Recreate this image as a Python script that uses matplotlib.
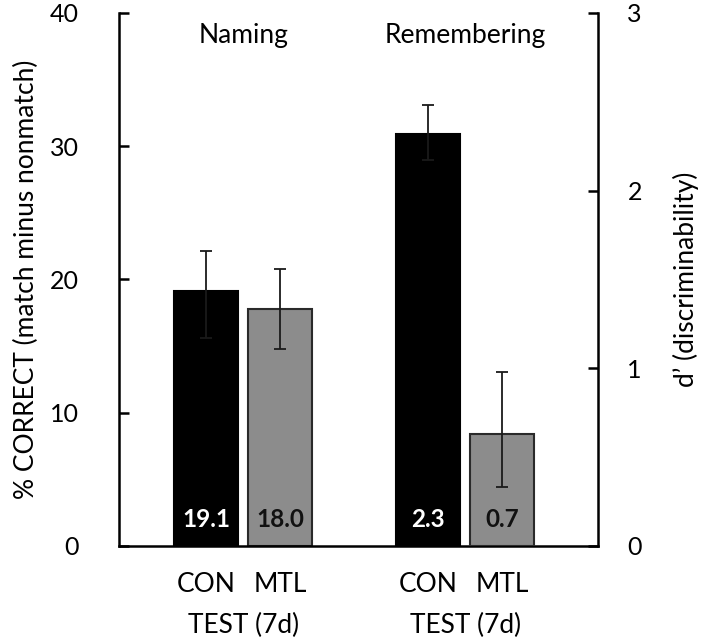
import matplotlib
matplotlib.use("Agg")
import matplotlib.pyplot as plt

plt.rcParams['font.family'] = ['Lato', 'DejaVu Sans']

groups = ["Naming", "Remembering"]
conds = ["CON", "MTL"]
# Naming: % correct (left axis)
naming_vals = [19.1, 17.8]
naming_lo = [15.6, 14.8]
naming_hi = [22.1, 20.8]
naming_labels = ["19.1", "18.0"]
# Remembering: d' (right axis)
remem_vals = [2.32, 0.63]
remem_lo = [2.17, 0.33]
remem_hi = [2.48, 0.98]
remem_labels = ["2.3", "0.7"]

bar_colors = ["#000000", "#8c8c8c"]
edge_colors = ["#000000", "#2a2a2a"]
text_colors = ["white", "#111111"]

fig = plt.figure(figsize=(7.08, 6.4), dpi=100)
ax = fig.add_axes([0.168, 0.147, 0.677, 0.833])
ax2 = ax.twinx()

xs_naming = [0, 1]
xs_remem = [3, 4]
w = 0.87

def draw(axis, xs, vals, lo, hi, labels):
    for i in range(2):
        axis.bar(xs[i], vals[i], width=w, color=bar_colors[i],
                 edgecolor=edge_colors[i], linewidth=1.5, zorder=2)
        axis.errorbar(xs[i], vals[i],
                      yerr=[[vals[i] - lo[i]], [hi[i] - vals[i]]],
                      fmt='none', ecolor='#1a1a1a', elinewidth=1.3,
                      capsize=4.5, capthick=1.3, zorder=3)

draw(ax, xs_naming, naming_vals, naming_lo, naming_hi, naming_labels)
draw(ax2, xs_remem, remem_vals, remem_lo, remem_hi, remem_labels)

ax.set_xlim(-1.18, 5.30)
ax.set_ylim(0, 40)
ax2.set_ylim(0, 3)
ax.set_yticks([0, 10, 20, 30, 40])
ax2.set_yticks([0, 1, 2, 3])

for a in (ax, ax2):
    a.spines['top'].set_visible(False)
    for s in a.spines.values():
        s.set_linewidth(1.8)
    a.tick_params(axis='y', direction='in', length=7, width=1.8,
                  labelsize=18)
ax.tick_params(axis='y', pad=29)
ax2.tick_params(axis='y', pad=21)
ax2.spines['left'].set_visible(False)
ax.spines['right'].set_visible(False)
ax2.spines['bottom'].set_visible(False)

# value labels inside bars (drawn on top axes so they sit above all bars)
for xs, labels in ((xs_naming, naming_labels), (xs_remem, remem_labels)):
    for i in range(2):
        ax2.text(xs[i], 2.0, labels[i], transform=ax.transData,
                 ha='center', va='center', fontsize=17.5, fontweight='bold',
                 color=text_colors[i], zorder=5)

# condition labels and test labels
ax.set_xticks(xs_naming + xs_remem)
ax.set_xticklabels(conds + conds, fontsize=19)
ax.tick_params(axis='x', length=0, pad=19)
for cx in (0.5, 3.5):
    ax.text(cx, -6.0, "TEST (7d)", ha='center', va='center', fontsize=19,
            clip_on=False)

ax2.text(0.5, 38.3, groups[0], transform=ax.transData, ha='center',
         va='center', fontsize=19)
ax2.text(3.5, 38.3, groups[1], transform=ax.transData, ha='center',
         va='center', fontsize=19)

ax.set_ylabel("% CORRECT (match minus nonmatch)", fontsize=19, labelpad=8)
ax2.set_ylabel("d\u2019 (discriminability)", fontsize=19, labelpad=22)

fig.savefig("out.png", dpi=100)
